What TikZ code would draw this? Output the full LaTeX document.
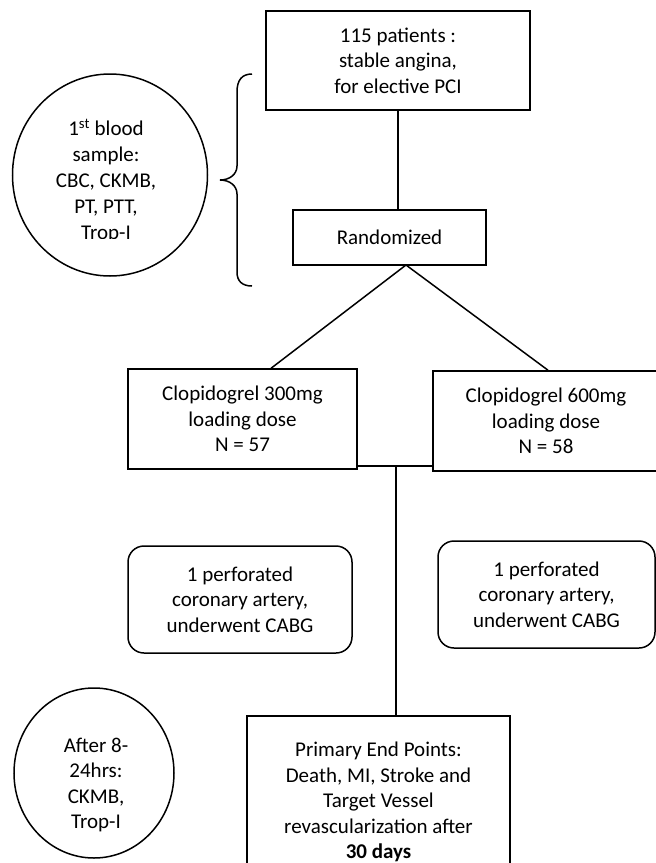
\documentclass[tikz,border=0pt]{standalone}
\usepackage{fontspec}
\setmainfont{Carlito}
\usetikzlibrary{shapes.geometric,calc}
\begin{document}
\begin{tikzpicture}[x=1pt,y=-1pt,line width=1.5pt,
  txt/.style={align=center,font=\fontsize{21}{25.5}\selectfont,inner sep=0pt},
  sqbox/.style={draw,rectangle,inner sep=0pt,txt},
  rbox/.style={draw,rectangle,rounded corners=16pt,inner sep=0pt,txt},
  oval/.style={draw,ellipse,inner sep=0pt},
  link/.style={draw,line width=1.5pt}]
\useasboundingbox (0,0) rectangle (656,863);
\clip (0,0) rectangle (656,863);

% boxes
\node[sqbox,minimum width=264pt,minimum height=99pt] (top) at (398,60.5)
  {115 patients :\\stable angina,\\for elective PCI};
\node[sqbox,minimum width=193pt,minimum height=55pt] (rand) at (389.5,237.5)
  {Randomized};
\node[sqbox,minimum width=229pt,minimum height=100pt] (lclop) at (242.5,419)
  {Clopidogrel 300mg\\loading dose\\N = 57};
\node[sqbox,minimum width=226pt,minimum height=100pt] (rclop) at (546,421)
  {Clopidogrel 600mg\\loading dose\\N = 58};
\node[rbox,minimum width=224pt,minimum height=107pt] (lperf) at (240,599.5)
  {1 perforated\\coronary artery,\\underwent CABG};
\node[rbox,minimum width=217pt,minimum height=107pt] (rperf) at (546.5,594.5)
  {1 perforated\\coronary artery,\\underwent CABG};
\node[sqbox,minimum width=263pt,minimum height=172pt] (prim) at (378.5,802)
  {Primary End Points:\\Death, MI, Stroke and\\Target Vessel\\revascularization after\\\textbf{30 days}};

% ovals
\node[oval,minimum width=195pt,minimum height=202pt] (c1) at (110,175) {};
\begin{scope}
  \clip (0,0) rectangle (656,238);
  \node[txt,font=\fontsize{21}{26}\selectfont] (c1t) at (106,181)
    {1\textsuperscript{st} blood\\sample:\\CBC, CKMB,\\PT, PTT,\\Trop-I};
\end{scope}
\node[oval,minimum width=160pt,minimum height=170pt] (c2) at (94,773) {};
\node[txt] (c2t) at (96,785) {After 8-\\24hrs:\\CKMB,\\Trop-I};

% brace
\draw (252,74) .. controls (242,74) and (237,80) .. (237,92) -- (237,166)
  .. controls (237,174) and (230,180) .. (220,180)
  .. controls (230,180) and (237,186) .. (237,194) -- (237,272)
  .. controls (237,281) and (242,286) .. (252,286);

% connectors
\draw[link] (top.south) -- (top.south |- rand.north);
\coordinate (apex) at (406,265);
\draw[link] (apex) -- ($(lclop.north west)!0.624!(lclop.north east)$);
\draw[link] (apex) -- ($(rclop.north west)!0.509!(rclop.north east)$);
\draw[link] ($(lclop.south east)+(0,-4)$) -- ($(rclop.south west)+(0,-6)$);
\coordinate (junc) at (396,465);
\draw[link] (junc) -- (junc |- prim.north);
\end{tikzpicture}
\end{document}
